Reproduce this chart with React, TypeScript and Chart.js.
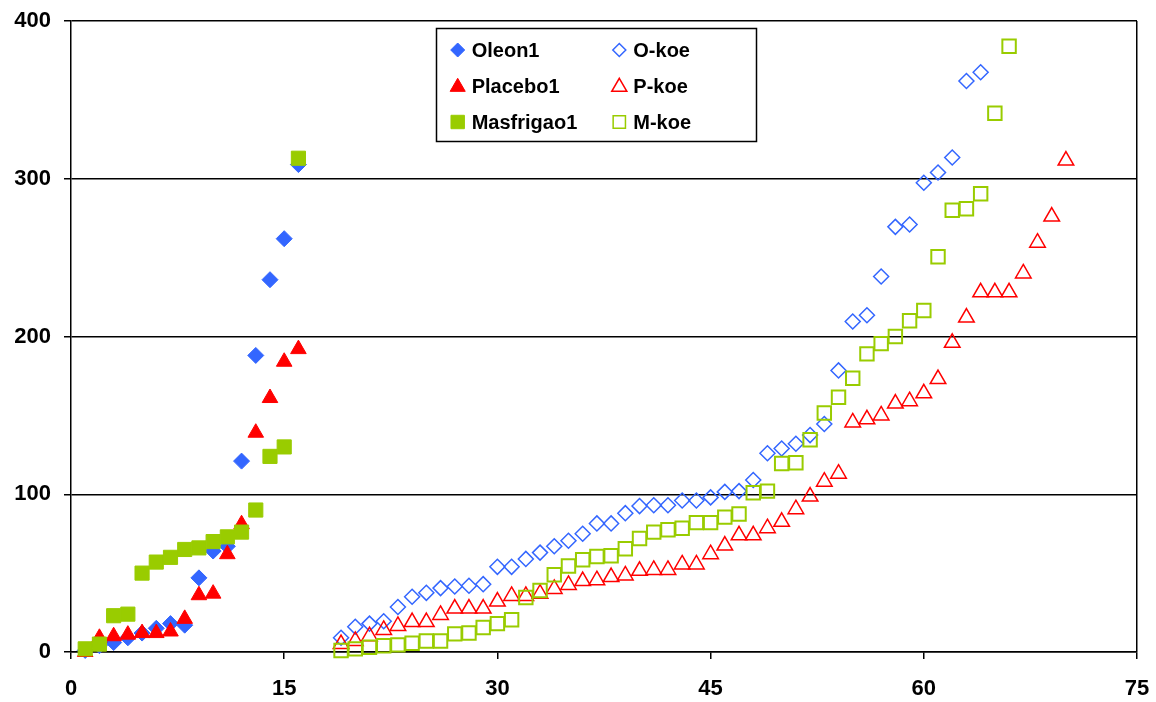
import React, { useEffect, useRef } from 'react';
import { Chart, registerables } from 'chart.js';
import { drawPoint } from 'chart.js/helpers';

Chart.register(...registerables);

// ---- data ----
const earlyX = [1, 2, 3, 4, 5, 6, 7, 8, 9, 10, 11, 12, 13, 14, 15, 16];
const oleon1Y = [1, 4, 6, 9, 12, 15, 18, 17, 47, 64, 67, 121, 188, 236, 262, 309];
const placebo1Y = [0, 9, 10, 11, 12, 12, 13, 21, 36, 37, 62, 81, 139, 161, 184, 192];
const masfrigao1Y = [2, 5, 23, 24, 50, 57, 60, 65, 66, 70, 73, 76, 90, 124, 130, 313];

const oKoeX = [19, 20, 21, 22, 23, 24, 25, 26, 27, 28, 29, 30, 31, 32, 33, 34, 35, 36, 37, 38, 39, 40, 41,
  42, 43, 44, 45, 46, 47, 48, 49, 50, 51, 52, 53, 54, 55, 56, 57, 58, 59, 60, 61, 62, 63, 64];
const oKoeY = [9, 16, 18, 19.5, 28.5, 35, 37.5, 40.5, 41.5, 42, 43, 54, 54, 59, 63, 67, 70.5, 75, 81.5, 81.5,
  88, 92.5, 93, 93, 96, 96, 98, 101.5, 102, 109, 126, 129, 132, 137.5, 144.5, 178.5, 209.5, 213.5, 238,
  269.5, 271, 297.5, 304, 313.5, 362, 367.5];

const pKoeX = [19, 20, 21, 22, 23, 24, 25, 26, 27, 28, 29, 30, 31, 32, 33, 34, 35, 36, 37, 38, 39, 40, 41,
  42, 43, 44, 45, 46, 47, 48, 49, 50, 51, 52, 53, 54, 55, 56, 57, 58, 59, 60, 61, 62, 63, 64, 65, 66, 67,
  68, 69, 70];
const pKoeY = [5, 7, 10, 14, 16.5, 19, 19, 23.5, 27.5, 27.5, 27.5, 32, 35.5, 35.5, 37, 40, 42.5, 45, 45.5,
  47.5, 48.5, 51.5, 52, 52, 55.5, 55.5, 62, 67.5, 74, 74, 78.5, 82.5, 90.5, 98.5, 108, 113, 145.5, 147.5,
  150, 157.5, 159, 164, 173, 196, 212, 228, 228, 228, 240, 259.5, 276, 311.5];

const mKoeX = [19, 20, 21, 22, 23, 24, 25, 26, 27, 28, 29, 30, 31, 32, 33, 34, 35, 36, 37, 38, 39, 40, 41,
  42, 43, 44, 45, 46, 47, 48, 49, 50, 51, 52, 53, 54, 55, 56, 57, 58, 59, 60, 61, 62, 63, 64, 65, 66];
const mKoeY = [1, 2, 3, 4, 4.5, 5.5, 7, 7, 11.5, 12, 15.5, 18, 20.5, 34.5, 39, 49, 54.5, 58.5, 60.5, 61,
  65.5, 72, 76, 77.5, 78.5, 82, 82, 85.5, 87.5, 101, 102, 119.5, 120, 134.5, 151.5, 161.5, 173.5, 189,
  195.5, 200, 210, 216.5, 250.5, 280, 281, 290.5, 341.5, 384];

const xTicks = [0, 15, 30, 45, 60, 75];
const yTicks = [0, 100, 200, 300, 400];

const BLUE = '#3366FF';
const RED = '#FF0000';
const GREEN = '#99CC00';
const FONT = "'Liberation Sans', Arial, Helvetica, sans-serif";

const zip = (xs: number[], ys: number[]) => ys.map((y, i) => ({ x: xs[i], y }));

type LegendItem = { label: string; style: string; color: string; filled: boolean; radius: number };
const legendCols: LegendItem[][] = [
  [
    { label: 'Oleon1', style: 'rectRot', color: BLUE, filled: true, radius: 7 },
    { label: 'Placebo1', style: 'triangle', color: RED, filled: true, radius: 8.7 },
    { label: 'Masfrigao1', style: 'rect', color: GREEN, filled: true, radius: 9.5 },
  ],
  [
    { label: 'O-koe', style: 'rectRot', color: BLUE, filled: false, radius: 6.5 },
    { label: 'P-koe', style: 'triangle', color: RED, filled: false, radius: 8.7 },
    { label: 'M-koe', style: 'rect', color: GREEN, filled: false, radius: 8.7 },
  ],
];

const boxLegend = {
  id: 'boxLegend',
  afterDraw(chart: any) {
    const ctx = chart.ctx as CanvasRenderingContext2D;
    ctx.save();
    ctx.fillStyle = '#ffffff';
    ctx.fillRect(436, 28, 321, 114);
    ctx.strokeStyle = '#000000';
    ctx.lineWidth = 1.5;
    ctx.strokeRect(436.5, 28.5, 320, 113);
    const colMarkerX = [457.7, 619.3];
    const colTextX = [471.7, 633.3];
    const rowY = [50, 87, 122];
    const rowBase = [56.7, 93.2, 129.4];
    ctx.font = `bold 20px ${FONT}`;
    ctx.textBaseline = 'alphabetic';
    ctx.textAlign = 'left';
    legendCols.forEach((col, ci) => {
      col.forEach((it, ri) => {
        ctx.save();
        ctx.fillStyle = it.filled ? it.color : 'rgba(0,0,0,0)';
        ctx.strokeStyle = it.color;
        ctx.lineWidth = it.filled ? 1 : 1.5;
        drawPoint(ctx, { pointStyle: it.style, radius: it.radius, rotation: 0, borderWidth: ctx.lineWidth } as any,
          colMarkerX[ci], rowY[ri]);
        ctx.restore();
        ctx.fillStyle = '#000';
        ctx.fillText(it.label, colTextX[ci], rowBase[ri]);
      });
    });
    ctx.restore();
  },
};

export default function App() {
  const ref = useRef<HTMLCanvasElement | null>(null);

  useEffect(() => {
    if (!ref.current) return;
    const mk = (label: string, data: any[], style: string, color: string, filled: boolean, radius: number, order: number) => ({
      label,
      data,
      showLine: false,
      pointStyle: style,
      pointRadius: radius,
      pointHoverRadius: radius,
      pointBackgroundColor: filled ? color : 'rgba(0,0,0,0)',
      pointBorderColor: color,
      pointBorderWidth: filled ? 1 : (style === 'rect' ? 2 : 1.5),
      backgroundColor: filled ? color : 'rgba(0,0,0,0)',
      borderColor: color,
      clip: false as any,
      order,
    });
    const chart = new Chart(ref.current, {
      type: 'scatter',
      data: {
        datasets: [
          mk('Oleon1', zip(earlyX, oleon1Y), 'rectRot', BLUE, true, 8, 6),
          mk('Placebo1', zip(earlyX, placebo1Y), 'triangle', RED, true, 9, 5),
          mk('Masfrigao1', zip(earlyX, masfrigao1Y), 'rect', GREEN, true, 10, 4),
          mk('O-koe', zip(oKoeX, oKoeY), 'rectRot', BLUE, false, 7.5, 3),
          mk('P-koe', zip(pKoeX, pKoeY), 'triangle', RED, false, 9, 2),
          mk('M-koe', zip(mKoeX, mKoeY), 'rect', GREEN, false, 9.5, 1),
        ] as any,
      },
      options: {
        responsive: false,
        animation: false,
        events: [],
        layout: { padding: { left: 0, right: 19, top: 21, bottom: 0 } },
        plugins: {
          legend: { display: false },
          tooltip: { enabled: false },
          title: { display: false },
        },
        scales: {
          x: {
            type: 'linear',
            min: xTicks[0],
            max: xTicks[xTicks.length - 1],
            afterBuildTicks: (scale: any) => {
              scale.ticks = xTicks.map((v) => ({ value: v }));
            },
            afterFit: (scale: any) => {
              scale.height = 50;
              scale.paddingLeft = 0;
              scale.paddingRight = 0;
              scale.paddingTop = 0;
              scale.paddingBottom = 0;
            },
            grid: {
              color: (c: any) => (c.tick && c.tick.value === 75 ? '#000000' : 'rgba(0,0,0,0)'),
              lineWidth: 1.5,
              tickColor: '#000000',
              tickLength: 7,
              drawTicks: true,
            },
            border: { display: true, color: '#000000', width: 1.5 },
            ticks: {
              color: '#000000',
              padding: 17,
              maxRotation: 0,
              autoSkip: false,
              font: { family: FONT, size: 22, weight: 'bold' },
            },
          },
          y: {
            type: 'linear',
            min: yTicks[0],
            max: yTicks[yTicks.length - 1],
            afterBuildTicks: (scale: any) => {
              scale.ticks = yTicks.map((v) => ({ value: v }));
            },
            afterFit: (scale: any) => {
              scale.width = 71;
              scale.paddingLeft = 0;
              scale.paddingRight = 0;
              scale.paddingTop = 0;
              scale.paddingBottom = 0;
            },
            grid: {
              color: '#000000',
              lineWidth: 1.5,
              tickColor: '#000000',
              tickLength: 7,
            },
            border: { display: true, color: '#000000', width: 1.5 },
            ticks: {
              color: '#000000',
              padding: 13,
              font: { family: FONT, size: 22, weight: 'bold' },
            },
          },
        },
      } as any,
      plugins: [boxLegend],
    });
    return () => chart.destroy();
  }, []);

  return (
    <div style={{ position: 'absolute', left: 0, top: 0, width: 1156, height: 702, background: '#ffffff' }}>
      <canvas ref={ref} width={1156} height={702} style={{ display: 'block', width: 1156, height: 702 }} />
    </div>
  );
}
